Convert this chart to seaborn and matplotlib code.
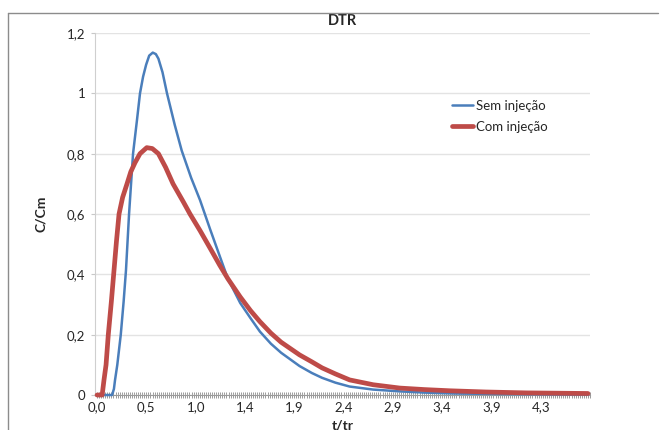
import matplotlib
matplotlib.use("Agg")
import matplotlib.pyplot as plt
import matplotlib.ticker as mticker
import seaborn as sns
import pandas as pd

# --- Data ---
t_sem = [0.00, 0.10, 0.147, 0.165, 0.176, 0.198, 0.232, 0.26, 0.283, 0.313,
         0.352, 0.39, 0.42, 0.45, 0.48, 0.51, 0.545, 0.575, 0.60, 0.64,
         0.684, 0.76, 0.828, 0.92, 1.007, 1.105, 1.20, 1.28, 1.40, 1.50,
         1.593, 1.70, 1.80, 1.98, 2.10, 2.20, 2.33, 2.47, 2.70, 2.96,
         3.20, 3.50, 4.00, 4.40, 4.80]
c_sem = [0.0, 0.0, 0.0, 0.02, 0.05, 0.10, 0.20, 0.31, 0.414, 0.60,
         0.80, 0.91, 1.00, 1.055, 1.095, 1.125, 1.135, 1.13, 1.115, 1.07,
         1.00, 0.895, 0.81, 0.72, 0.646, 0.55, 0.46, 0.385, 0.305, 0.255,
         0.21, 0.17, 0.14, 0.096, 0.073, 0.057, 0.041, 0.028, 0.018, 0.012,
         0.008, 0.005, 0.003, 0.002, 0.001]

t_com = [0.00, 0.05, 0.068, 0.088, 0.11, 0.14, 0.166, 0.19, 0.215, 0.25,
         0.293, 0.33, 0.371, 0.42, 0.486, 0.54, 0.60, 0.67, 0.743, 0.844,
         0.909, 1.007, 1.105, 1.20, 1.28, 1.40, 1.50, 1.593, 1.70, 1.80,
         1.98, 2.10, 2.20, 2.33, 2.47, 2.70, 2.96, 3.20, 3.45, 3.80,
         4.20, 4.80]
c_com = [0.0, 0.0, 0.05, 0.10, 0.20, 0.31, 0.414, 0.51, 0.60, 0.655,
         0.70, 0.74, 0.77, 0.80, 0.82, 0.817, 0.80, 0.755, 0.70, 0.64,
         0.60, 0.545, 0.487, 0.43, 0.385, 0.325, 0.28, 0.243, 0.205, 0.175,
         0.133, 0.11, 0.09, 0.07, 0.05, 0.034, 0.023, 0.018, 0.014, 0.010,
         0.007, 0.005]

x_step = 0.482          # spacing of the category labels
x_labels = ['0,0', '0,5', '1,0', '1,4', '1,9', '2,4', '2,9', '3,4', '3,9', '4,3']
y_ticks = [0, 0.2, 0.4, 0.6, 0.8, 1.0, 1.2]
y_labels = ['0', '0,2', '0,4', '0,6', '0,8', '1', '1,2']

df = pd.concat([
    pd.DataFrame({'t': t_sem, 'C': c_sem, 'Serie': 'Sem injeção'}),
    pd.DataFrame({'t': t_com, 'C': c_com, 'Serie': 'Com injeção'}),
])

# --- Styling ---
sns.set_style("white")
plt.rcParams['font.family'] = ['Lato', 'DejaVu Sans']

fig = plt.figure(figsize=(6.64, 4.30), dpi=100)
ax = fig.add_axes([95 / 664, 1 - 395 / 430, (590 - 95) / 664, (395 - 33) / 430])

blue = '#4A7EBB'
red = '#BE4B48'

sns.lineplot(data=df[df['Serie'] == 'Sem injeção'], x='t', y='C', color=blue,
             linewidth=1.8, ax=ax, label='Sem injeção', zorder=3)
sns.lineplot(data=df[df['Serie'] == 'Com injeção'], x='t', y='C', color=red,
             linewidth=3.4, ax=ax, label='Com injeção', zorder=4)
for ln in ax.lines:
    ln.set_solid_joinstyle('round')
    ln.set_clip_on(False)

ax.set_xlim(-0.02, 4.82)
ax.set_ylim(0, 1.2)

ax.set_xticks([i * x_step for i in range(len(x_labels))])
ax.set_xticklabels(x_labels)
ax.xaxis.set_minor_locator(mticker.MultipleLocator(x_step / 24))
ax.set_yticks(y_ticks)
ax.set_yticklabels(y_labels)

ax.tick_params(axis='x', which='both', bottom=True, direction='inout', length=5,
               width=0.7, color='#9a9a9a', labelsize=9.5, pad=2)
ax.tick_params(axis='y', which='major', left=True, direction='out', length=3,
               width=0.8, color='#c8c8c8', labelsize=9.5, pad=4)

ax.grid(axis='y', color='#e3e3e3', linewidth=1)
ax.grid(axis='x', visible=False)
for side in ['top', 'right']:
    ax.spines[side].set_visible(False)
ax.spines['left'].set_color('#cfcfcf')
ax.spines['bottom'].set_color('#9a9a9a')

ax.set_title('DTR', fontsize=10.5, fontweight='bold', pad=6)
ax.set_xlabel('t/tr', fontsize=10, fontweight='bold')
ax.xaxis.set_label_coords(0.5, (395 - 419) / 362)
ax.set_ylabel('C/Cm', fontsize=10, fontweight='bold', labelpad=14)

leg = ax.legend(loc='upper left', bbox_to_anchor=((440 - 95) / 495, (395 - 88) / 362),
                frameon=False, fontsize=9.5, handlelength=1.6, handletextpad=0.2,
                labelspacing=0.7)

# chart area border
fig.add_artist(plt.Line2D([8 / 664, 8 / 664], [0, 1 - 13 / 430], transform=fig.transFigure,
                          color='#8c8c8c', linewidth=1))
fig.add_artist(plt.Line2D([8 / 664, 658 / 664], [1 - 13 / 430, 1 - 13 / 430],
                          transform=fig.transFigure, color='#8c8c8c', linewidth=1))

plt.savefig('out.png', dpi=100)
plt.close()
